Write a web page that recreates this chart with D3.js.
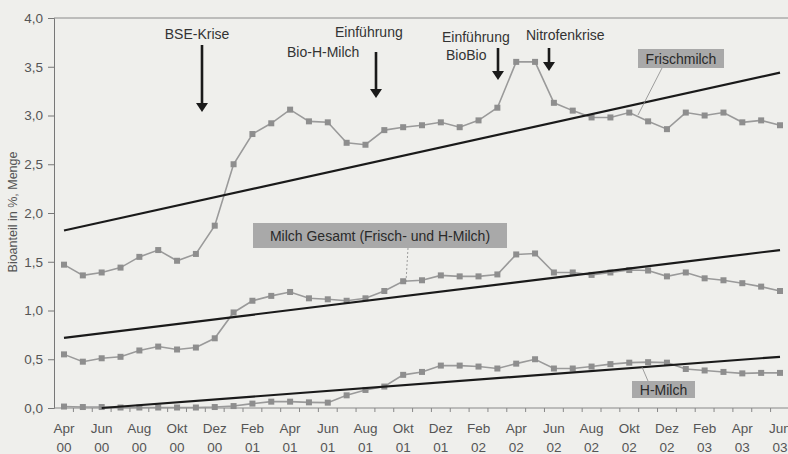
<!DOCTYPE html>
<html><head><meta charset="utf-8">
<script src="https://cdn.jsdelivr.net/npm/d3@7/dist/d3.min.js"></script>
<style>
html,body{margin:0;padding:0;background:#efefec;}
svg{display:block;font-family:"Liberation Sans",Arial,sans-serif;}
</style></head>
<body><svg id="c" width="788" height="454"></svg>
<script>
const months = ["Apr","Mai","Jun","Jul","Aug","Sep","Okt","Nov","Dez","Jan","Feb","Mär",
  "Apr","Mai","Jun","Jul","Aug","Sep","Okt","Nov","Dez","Jan","Feb","Mär",
  "Apr","Mai","Jun","Jul","Aug","Sep","Okt","Nov","Dez","Jan","Feb","Mär",
  "Apr","Mai","Jun"];
const years = ["00","00","00","00","00","00","00","00","00","01","01","01",
  "01","01","01","01","01","01","01","01","01","02","02","02",
  "02","02","02","02","02","02","02","02","02","03","03","03",
  "03","03","03"];
const frischmilch = [1.47,1.36,1.39,1.44,1.55,1.62,1.51,1.58,1.87,2.50,2.81,2.92,
  3.06,2.94,2.93,2.72,2.70,2.85,2.88,2.90,2.93,2.88,2.95,3.08,
  3.55,3.55,3.13,3.05,2.98,2.98,3.03,2.94,2.86,3.03,3.00,3.03,
  2.93,2.95,2.90];
const milchGesamt = [0.55,0.475,0.51,0.525,0.59,0.63,0.60,0.62,0.715,0.98,1.10,1.15,
  1.19,1.125,1.115,1.10,1.125,1.20,1.30,1.31,1.36,1.35,1.35,1.37,
  1.575,1.585,1.39,1.39,1.365,1.39,1.415,1.41,1.35,1.39,1.33,1.31,
  1.28,1.245,1.20];
const hMilch = [0.015,0.01,0.01,0.005,0.005,0.005,0.005,0.005,0.01,0.02,0.045,0.065,
  0.065,0.058,0.055,0.13,0.185,0.22,0.34,0.37,0.435,0.435,0.425,0.405,
  0.455,0.50,0.405,0.405,0.425,0.45,0.465,0.47,0.465,0.40,0.385,0.37,
  0.355,0.36,0.36];
// trend lines: [startIndex, startValue, endIndex, endValue]
const trendFrisch = [0, 1.82, 38, 3.44];
const trendGesamt = [0, 0.72, 38, 1.62];
const trendH = [2, 0.0, 38, 0.525];
const yTicks = [0,0.5,1,1.5,2,2.5,3,3.5,4];

const svg = d3.select("#c");
const x = d3.scaleLinear().domain([0, months.length-1]).range([64, 780]);
const y = d3.scaleLinear().domain([0, 4]).range([408, 18]);
const fmt = v => d3.format(".1f")(v).replace(".", ",");

// top rule
svg.append("line").attr("x1",54).attr("x2",788).attr("y1",18).attr("y2",18)
  .attr("stroke","#8a8a8a").attr("stroke-width",1);

// y axis
const yAxis = svg.append("g").attr("transform","translate(54,0)")
  .call(d3.axisLeft(y).tickValues(yTicks).tickFormat(fmt).tickSize(6).tickPadding(5));
yAxis.select(".domain").attr("stroke","#777");
yAxis.selectAll(".tick line").attr("stroke","#777");
yAxis.selectAll("text").attr("fill","#555").attr("font-size","13.5px");

// x axis
const xAxis = svg.append("g").attr("transform","translate(0,408)");
xAxis.append("line").attr("x1",54).attr("x2",788).attr("y1",0).attr("y2",0).attr("stroke","#888");
const idx = d3.range(months.length);
xAxis.selectAll("line.mt").data(idx).join("line").attr("class","mt")
  .attr("x1",d=>x(d)+ (x(1)-x(0))/2).attr("x2",d=>x(d)+(x(1)-x(0))/2)
  .attr("y1",0).attr("y2",4).attr("stroke","#888");
const labIdx = idx.filter(i => i % 2 === 0);
const lab = xAxis.selectAll("text.tl").data(labIdx).join("text").attr("class","tl")
  .attr("text-anchor","middle").attr("fill","#555").attr("font-size","13.5px");
lab.append("tspan").attr("x",d=>x(d)).attr("y",25).text(d=>months[d]);
lab.append("tspan").attr("x",d=>x(d)).attr("y",44).text(d=>years[d]);

// y title
svg.append("text").attr("transform","translate(17,212) rotate(-90)")
  .attr("text-anchor","middle").attr("fill","#555").attr("font-size","12.5px")
  .text("Bioanteil in %, Menge");

// series
const line = d3.line().x((d,i)=>x(i)).y(d=>y(d));
[frischmilch, milchGesamt, hMilch].forEach(s => {
  svg.append("path").datum(s).attr("d",line).attr("fill","none")
    .attr("stroke","#9a9a9a").attr("stroke-width",1.6);
  svg.append("g").selectAll("rect").data(s).join("rect")
    .attr("x",(d,i)=>x(i)-3).attr("y",d=>y(d)-3).attr("width",6).attr("height",6)
    .attr("fill","#8e8e8e");
});

// trend lines
[trendFrisch, trendGesamt, trendH].forEach(t => {
  svg.append("line").attr("x1",x(t[0])).attr("y1",y(t[1]))
    .attr("x2",x(t[2])).attr("y2",y(t[3]))
    .attr("stroke","#1a1a1a").attr("stroke-width",2.2);
});

// leader lines
function leader(x1,y1,x2,y2,dash){
  svg.append("line").attr("x1",x1).attr("y1",y1).attr("x2",x2).attr("y2",y2)
    .attr("stroke","#888").attr("stroke-width",0.8).attr("stroke-dasharray",dash||null);
}
leader(662,68,638,115);
leader(408,248,406,282,"2,2");
leader(648,381,642,367);

// label boxes
function box(x0,y0,w,h,t){
  svg.append("rect").attr("x",x0).attr("y",y0).attr("width",w).attr("height",h).attr("fill","#a9a9a9");
  svg.append("text").attr("x",x0+w/2).attr("y",y0+h/2+5).attr("text-anchor","middle")
    .attr("fill","#2a2a2a").attr("font-size","14px").text(t);
}
box(638,49,86,19,"Frischmilch");
box(253,223,254,25,"Milch Gesamt (Frisch- und H-Milch)");
box(632,381,63,17,"H-Milch");

// annotations
function txt(xp,yp,t,anchor){
  svg.append("text").attr("x",xp).attr("y",yp).attr("text-anchor",anchor||"start")
    .attr("fill","#333").attr("font-size","14px").text(t);
}
function arrow(xp,y1,y2){
  svg.append("line").attr("x1",xp).attr("x2",xp).attr("y1",y1).attr("y2",y2-7)
    .attr("stroke","#1a1a1a").attr("stroke-width",2.6);
  svg.append("path").attr("d",`M${xp-6},${y2-9}L${xp+6},${y2-9}L${xp},${y2}Z`).attr("fill","#1a1a1a");
}
txt(197,39,"BSE-Krise","middle"); arrow(202,45,112);
txt(335,37,"Einführung"); txt(287,57,"Bio-H-Milch"); arrow(376,52,98);
txt(442,42,"Einführung"); txt(446,60,"BioBio"); arrow(498,48,80);
txt(526,40,"Nitrofenkrise"); arrow(549,48,71);
</script></body></html>
